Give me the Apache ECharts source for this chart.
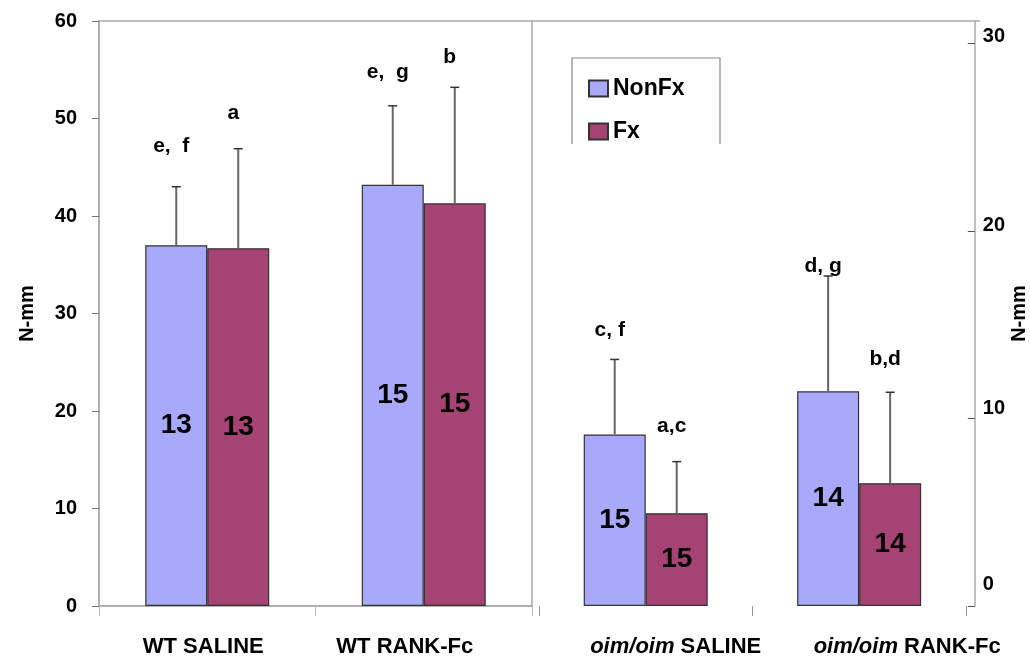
<!DOCTYPE html>
<html>
<head>
<meta charset="utf-8">
<script src="https://cdn.jsdelivr.net/npm/echarts@6/dist/echarts.min.js"></script>
<style>
  html, body { margin: 0; padding: 0; background: #fff; }
  #chart { width: 1030px; height: 662px; }
</style>
</head>
<body>
<div id="chart"></div>
<script>
// Wild-type groups, plotted on the left N-mm axis
const wtGroups = ['WT SALINE', 'WT RANK-Fc'];
const wtNonFx = [37.0, 43.2];
const wtNonFxSD = [6.0, 8.1];
const wtFx = [36.7, 41.3];
const wtFxSD = [10.2, 11.9];
const wtNonFxN = [13, 15];
const wtFxN = [13, 15];
const wtNonFxSig = ['e,  f', 'e,  g'];
const wtFxSig = ['a', 'b'];

// oim/oim groups, plotted on the right N-mm axis
const oimGroups = ['oim/oim SALINE', 'oim/oim RANK-Fc'];
const oimNonFx = [9.15, 11.45];
const oimNonFxSD = [4.0, 6.15];
const oimFx = [4.95, 6.55];
const oimFxSD = [2.75, 4.85];
const oimNonFxN = [15, 14];
const oimFxN = [15, 14];
const oimNonFxSig = ['c, f', 'd, g'];
const oimFxSig = ['a,c', 'b,d'];

const leftTicks = [0, 10, 20, 30, 40, 50, 60];
const rightTicks = [0, 10, 20, 30];

// ---- layout / style ----
const FONT = '"Liberation Sans", Arial, Helvetica, sans-serif';
const C_NONFX = '#a9a9fb';
const C_FX = '#a54373';
const EDGE = '#333';
const FRAME = '#aaaaaa';
const BAR_W = 62;
const wtLabelShift = [-4, -19];
const oimLabelShift = [30, 48];
const rightLabelLift = { 0: 22, 10: 10, 20: 6, 30: 7 };
const wtNonFxLift = [41, 34], wtFxLift = [36, 30];
const oimNonFxLift = [29, 10], oimFxLift = [35, 33];

const chart = echarts.init(document.getElementById('chart'), null, { renderer: 'canvas' });

function barSeries(name, color, data, nums, gridIdx) {
  return {
    name: name,
    type: 'bar',
    xAxisIndex: gridIdx,
    yAxisIndex: gridIdx,
    data: data,
    barWidth: BAR_W,
    barGap: '0%',
    itemStyle: { color: color, borderColor: EDGE, borderWidth: 1.2 },
    label: {
      show: true,
      position: 'inside',
      formatter: p => String(nums[p.dataIndex]),
      color: '#000',
      fontFamily: FONT,
      fontWeight: 'bold',
      fontSize: 28
    },
    z: 2
  };
}

// upper error whisker with significance letters
function errSeries(gridIdx, means, sds, side, letters, lifts) {
  return {
    type: 'custom',
    xAxisIndex: gridIdx,
    yAxisIndex: gridIdx,
    data: means.map((m, i) => [i, m, sds[i]]),
    z: 3,
    silent: true,
    renderItem: function (params, api) {
      const c = api.value(0), m = api.value(1), s = api.value(2);
      const base = api.coord([c, m]);
      const top = api.coord([c, m + s]);
      const x = base[0] + side * BAR_W / 2;
      const i = params.dataIndex;
      return {
        type: 'group',
        children: [
          { type: 'line', shape: { x1: x, y1: base[1], x2: x, y2: top[1] },
            style: { stroke: '#666', lineWidth: 2 } },
          { type: 'line', shape: { x1: x - 4.5, y1: top[1], x2: x + 4.5, y2: top[1] },
            style: { stroke: '#333', lineWidth: 1.5 } },
          { type: 'text', x: x - 5, y: top[1] - lifts[i],
            style: { text: letters[i], fill: '#000', font: 'bold 21px ' + FONT,
                     align: 'center', verticalAlign: 'middle' } }
        ]
      };
    }
  };
}

const leftRich = {};
wtLabelShift.forEach((d, i) => {
  leftRich['l' + i] = { fontFamily: FONT, fontWeight: 'bold', fontSize: 22, color: '#000',
    padding: d < 0 ? [0, -2 * d, 0, 0] : [0, 0, 0, 2 * d] };
});
const rightRich = { r: { fontFamily: FONT, fontWeight: 'bold', fontSize: 22, color: '#000' } };
oimLabelShift.forEach((d, i) => {
  rightRich['i' + i] = { fontFamily: FONT, fontWeight: 'bold', fontStyle: 'italic', fontSize: 22,
    color: '#000', padding: [0, 0, 0, 2 * d] };
});
const yRich = {};
rightTicks.forEach(v => {
  yRich['s' + v] = { fontFamily: FONT, fontWeight: 'bold', fontSize: 20, color: '#000',
    padding: [0, 0, 2 * rightLabelLift[v], 0] };
});

const option = {
  animation: false,
  backgroundColor: '#fff',
  grid: [
    { left: 99, top: 21, width: 433, bottom: 56, show: true, borderColor: FRAME, borderWidth: 1.5 },
    { left: 539, top: 21, width: 432, bottom: 56, show: false }
  ],
  legend: {
    data: ['NonFx', 'Fx'],
    orient: 'vertical',
    left: 583,
    top: 72,
    icon: 'rect',
    itemWidth: 19,
    itemHeight: 16,
    itemGap: 20,
    textStyle: { fontFamily: FONT, fontWeight: 'bold', fontSize: 23, color: '#000' }
  },
  xAxis: [
    {
      type: 'category', gridIndex: 0, data: wtGroups,
      axisLine: { show: true, lineStyle: { color: FRAME, width: 1.5 } },
      axisTick: { show: true, length: 10, lineStyle: { color: '#bbb' } },
      axisLabel: { margin: 30, formatter: (v, i) => '{l' + i + '|' + v + '}', rich: leftRich }
    },
    {
      type: 'category', gridIndex: 1, data: oimGroups,
      axisLine: { show: false },
      axisTick: { show: true, length: 10, lineStyle: { color: '#999' } },
      axisLabel: {
        margin: 30,
        formatter: (v, i) => {
          const k = v.indexOf(' ');
          return '{i' + i + '|' + v.slice(0, k) + '}{r| ' + v.slice(k + 1) + '}';
        },
        rich: rightRich
      }
    }
  ],
  yAxis: [
    {
      type: 'value', gridIndex: 0, min: 0, max: 60, interval: 10,
      name: 'N-mm', nameLocation: 'middle', nameGap: 62, nameRotate: 90,
      nameTextStyle: { fontFamily: FONT, fontWeight: 'bold', fontSize: 20, color: '#000' },
      splitLine: { show: false },
      axisLine: { show: true, lineStyle: { color: FRAME, width: 1.5 } },
      axisTick: { show: true, length: 7, lineStyle: { color: '#777' } },
      axisLabel: { margin: 22, fontFamily: FONT, fontWeight: 'bold', fontSize: 20, color: '#000',
                   customValues: leftTicks }
    },
    {
      type: 'value', gridIndex: 1, position: 'right', offset: 9, min: 0, max: 31.2,
      name: 'N-mm', nameLocation: 'middle', nameGap: 26, nameRotate: 90,
      nameTextStyle: { fontFamily: FONT, fontWeight: 'bold', fontSize: 20, color: '#000' },
      splitLine: { show: false },
      axisLine: { show: true, lineStyle: { color: FRAME, width: 1.5 } },
      axisTick: { show: true, inside: true, length: 7, lineStyle: { color: '#555' },
                  customValues: rightTicks },
      axisLabel: { margin: 8, customValues: rightTicks,
                   formatter: v => '{s' + v + '|' + v + '}', rich: yRich }
    }
  ],
  graphic: [
    { type: 'polyline', shape: { points: [[532, 21], [980, 21]] },
      style: { stroke: FRAME, lineWidth: 1.5, fill: null }, silent: true },
    { type: 'polyline', shape: { points: [[572, 144], [572, 58], [720, 58], [720, 144]] },
      style: { stroke: '#888', lineWidth: 1.2, fill: null }, silent: true }
  ],
  series: [
    barSeries('NonFx', C_NONFX, wtNonFx, wtNonFxN, 0),
    barSeries('Fx', C_FX, wtFx, wtFxN, 0),
    barSeries('NonFx', C_NONFX, oimNonFx, oimNonFxN, 1),
    barSeries('Fx', C_FX, oimFx, oimFxN, 1),
    errSeries(0, wtNonFx, wtNonFxSD, -1, wtNonFxSig, wtNonFxLift),
    errSeries(0, wtFx, wtFxSD, 1, wtFxSig, wtFxLift),
    errSeries(1, oimNonFx, oimNonFxSD, -1, oimNonFxSig, oimNonFxLift),
    errSeries(1, oimFx, oimFxSD, 1, oimFxSig, oimFxLift)
  ]
};

chart.setOption(option);
</script>
</body>
</html>
